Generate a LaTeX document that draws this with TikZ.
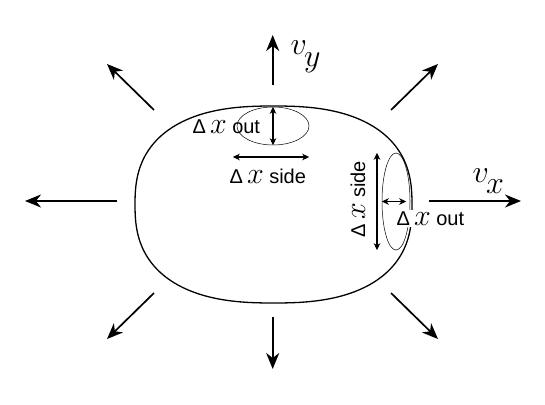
\RequirePackage{fix-cm}
\documentclass[tikz,border=0pt]{standalone}
\usepackage{fontspec}
\setmainfont{Liberation Sans}
\usetikzlibrary{arrows.meta, shapes.geometric}

\newcommand*\dx{Δ\kern4pt{\fontsize{30}{32}\selectfont$x$}\kern5.5pt}
\newcommand*\vel[1]{{\fontsize{32}{34}\selectfont$v$\kern-3pt\raisebox{-11pt}{$#1$}}}

\begin{document}
\begin{tikzpicture}[
  x=1pt, y=-1pt, font=\fontsize{20}{23}\selectfont,
  flow/.style={-{Stealth[length=16pt, width=13pt, inset=5pt]}, line width=1.7pt},
  span/.style={{Stealth[length=7pt, width=6.5pt, inset=2pt]}-{Stealth[length=7pt, width=6.5pt, inset=2pt]}, line width=1.1pt},
  cell/.style={draw, ellipse, line width=0.5pt, inner sep=0pt},
  lbl/.style={inner sep=0.5pt}
]
\useasboundingbox (0,0) rectangle (545,404);

%% Blob outline
\draw[line width=1.3pt] plot[domain=1.5:358.5, samples=120, smooth cycle, variable=\t]
  ({273.5+138.5*cos(\t)/(abs(cos(\t))^2.5+abs(sin(\t))^2.5)^0.4},
   {204.5+98.5*sin(\t)/(abs(cos(\t))^2.5+abs(sin(\t))^2.5)^0.4});

%% Surface cells
\node[cell, minimum width=72pt, minimum height=38pt] (celltop) at (273,126) {};
\node[cell, minimum width=28pt, minimum height=97pt] (cellright) at (396,201.5) {};

%% Cell sizes
\draw[span] (celltop.north) -- (celltop.south);
\draw[span] ([xshift=-4pt, yshift=-31pt]celltop.west) -- ([yshift=-31pt]celltop.east);
\draw[span] ([xshift=-19pt]cellright.north) -- ([xshift=-19pt]cellright.south);
\draw[span] (cellright.west) -- ([xshift=-4pt]cellright.east);

\node[lbl, anchor=base west] (outtop) at (192,133) {\dx out};
\node[lbl, anchor=base west] (sidetop) at (229,183) {\dx side};
\node[lbl, anchor=base west, rotate=90] (sideright) at (365,238) {\dx side};
\node[lbl, anchor=base west, fill=white, inner sep=1.5pt] (outright) at (395,225) {\dx out};

%% Expansion arrows
\coordinate (tn) at (272.7,85);   \coordinate (hn) at (272.7,35);
\coordinate (ts) at (272.7,317);  \coordinate (hs) at (272.7,369);
\coordinate (tw) at (117,201);    \coordinate (hw) at (25,201);
\coordinate (te) at (428.7,201);  \coordinate (he) at (521,201);
\coordinate (tnw) at (154,110);   \coordinate (hnw) at (107,64);
\coordinate (tne) at (391,110);   \coordinate (hne) at (438,64);
\coordinate (tsw) at (154,293);   \coordinate (hsw) at (107,339);
\coordinate (tse) at (391,293);   \coordinate (hse) at (438,339);
\draw[flow] (tn) -- (hn);
\draw[flow] (ts) -- (hs);
\draw[flow] (tw) -- (hw);
\draw[flow] (te) -- (he);
\draw[flow] (tnw) -- (hnw);
\draw[flow] (tne) -- (hne);
\draw[flow] (tsw) -- (hsw);
\draw[flow] (tse) -- (hse);

%% Velocities
\node[lbl, anchor=base west] (vy) at (290,55) {\vel{y}};
\node[lbl, anchor=base west] (vx) at (472,182) {\vel{x}};
\end{tikzpicture}
\end{document}
